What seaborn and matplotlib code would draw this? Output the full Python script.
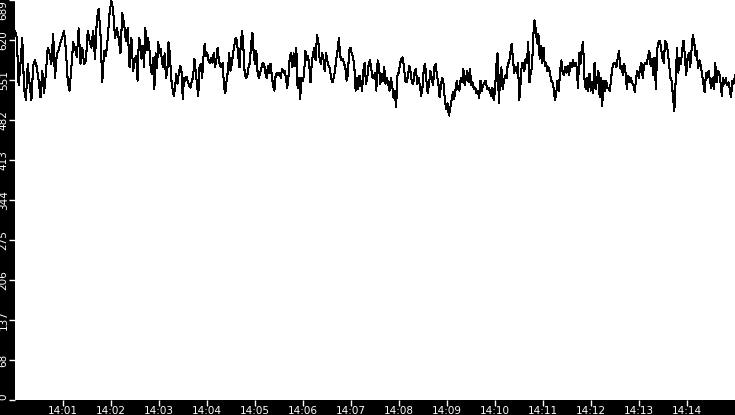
import numpy as np
import pandas as pd
import matplotlib
matplotlib.use("Agg")
import matplotlib.pyplot as plt
import matplotlib.dates as mdates
import seaborn as sns

# Values, in six 2.5-minute windows (14:00 -> 14:15)
seg1 = [636, 624, 542, 579, 623, 536, 516, 579, 545, 516, 576, 585, 573, 550, 521, 567, 528, 564,
        607, 597, 579, 631, 554, 597, 602, 616, 624, 636, 602, 550, 533, 573, 616, 607, 590, 640,
        579, 607, 579, 585, 636, 619, 607, 636, 588, 654, 674, 631, 547, 602, 593, 623, 666, 688,
        671, 623, 641, 624, 597, 666, 648, 619, 641, 573, 624, 567]
seg2 = [588, 593, 550, 624, 619, 588, 610, 573, 641, 602, 623, 610, 576, 562, 590, 536, 597, 571,
        616, 597, 605, 581, 573, 597, 555, 564, 616, 597, 554, 538, 524, 536, 562, 545, 564, 576,
        567, 519, 555, 550, 557, 547, 542, 538, 550, 555, 588, 567, 545, 524, 573, 579, 554, 590,
        614, 593, 598, 585, 581, 590, 581, 598, 573, 585, 607, 585, 576, 573, 581, 538, 528, 550,
        567, 597, 567, 579, 597, 610, 624, 619, 593, 573, 614, 636, 607, 562, 554, 559, 573, 581,
        614, 633, 597]
seg3 = [579, 602, 564, 554, 564, 573, 581, 579, 564, 555, 576, 564, 579, 559, 542, 533, 559, 564,
        559, 564, 555, 571, 564, 567, 555, 538, 559, 593, 597, 573, 597, 576, 607, 538, 554, 519,
        555, 550, 559, 602, 585, 593, 579, 547, 581, 597, 607, 585, 628, 619, 590, 579, 598, 588,
        567, 598, 585, 576, 571, 554, 547, 555, 567, 588, 602, 623, 593, 585, 588, 579, 573, 550,
        562, 602, 607, 597, 590, 573, 533, 555, 536, 559, 547, 533, 567, 581, 545, 555, 576, 585,
        573, 555, 554]
seg4 = [564, 533, 585, 576, 545, 562, 550, 573, 545, 554, 545, 533, 554, 542, 521, 533, 504, 559,
        564, 579, 588, 590, 573, 550, 547, 559, 576, 564, 547, 545, 564, 571, 545, 555, 542, 524,
        538, 571, 579, 550, 528, 545, 567, 554, 542, 573, 579, 559, 547, 521, 542, 555, 545, 516,
        502, 511, 490, 502, 516, 530, 519, 533, 550, 536, 533, 554, 547, 571, 542, 555, 567, 547,
        571, 542, 547, 536, 538, 528, 533, 521, 550, 533, 542, 547, 550, 536, 538, 533, 524, 538,
        516]
seg5 = [533, 576, 597, 512, 554, 573, 536, 550, 559, 554, 579, 581, 597, 614, 590, 564, 573, 564,
        581, 516, 545, 579, 581, 567, 588, 581, 616, 547, 564, 573, 628, 654, 636, 614, 631, 588,
        610, 581, 607, 576, 581, 567, 573, 564, 550, 547, 536, 516, 530, 550, 533, 567, 585, 564,
        559, 573, 564, 576, 559, 581, 573, 585, 576, 581, 573, 538, 597, 579, 607, 616, 555, 536,
        554, 533, 562, 533, 547, 528, 581, 536, 554, 567, 521, 554, 507, 550, 533, 550, 538, 536,
        533, 555, 573, 581]
seg6 = [581, 573, 588, 602, 571, 576, 559, 579, 564, 536, 559, 547, 554, 547, 542, 530, 554, 567,
        555, 571, 581, 555, 576, 581, 579, 590, 602, 576, 588, 559, 590, 536, 605, 616, 619, 605,
        588, 581, 619, 614, 602, 579, 555, 550, 521, 498, 550, 607, 564, 590, 579, 605, 619, 593,
        559, 588, 597, 573, 602, 628, 619, 593, 602, 571, 585, 576, 562, 545, 530, 564, 555, 567,
        550, 538, 555, 536, 581, 547, 567, 564, 547, 524, 555, 545, 554, 542, 547, 536, 521, 550,
        545, 559]
segments = [seg1, seg2, seg3, seg4, seg5, seg6]

y_tick_values = [0, 68.9, 137.8, 206.7, 275.6, 344.5, 413.4, 482.3, 551.2, 620.1, 689]
y_tick_labels = ["0", "68", "137", "206", "275", "344", "413", "482", "551", "620", "689"]
x_tick_minutes = list(range(1, 15))

start = pd.Timestamp("2024-01-01 14:00:00")
window = 150  # seconds per segment
times, vals = [], []
for k, seg in enumerate(segments):
    offs = np.linspace(window * k, window * (k + 1), len(seg), endpoint=(k == len(segments) - 1))
    times.extend(start + pd.to_timedelta(offs, unit="s"))
    vals.extend(seg)
df = pd.DataFrame({"time": times, "value": vals})

fig = plt.figure(figsize=(7.35, 4.15), dpi=100, facecolor="black")
ax = fig.add_axes([15 / 735, 15 / 415, 720 / 735, 400 / 415])
ax.set_facecolor("white")

sns.lineplot(data=df, x="time", y="value", ax=ax, color="black", linewidth=0.75,
             estimator=None, sort=False, antialiased=False)

ax.set_xlim(start, start + pd.Timedelta(minutes=15))
ax.set_ylim(0, 689)

ax.set_xticks([start + pd.Timedelta(minutes=m) for m in x_tick_minutes])
ax.xaxis.set_major_formatter(mdates.DateFormatter("%H:%M"))
ax.set_yticks(y_tick_values)
ax.set_yticklabels(y_tick_labels)

ax.tick_params(axis="x", colors="white", length=4, width=1, pad=0.3, labelsize=7.5)
ax.tick_params(axis="y", colors="white", length=4, width=1, pad=0.5, labelsize=7.5)
ylabs = ax.get_yticklabels()
for lab in ylabs:
    lab.set_rotation(90)
    lab.set_va("center")
    lab.set_ha("right")
ylabs[0].set_va("bottom")
ylabs[-1].set_va("top")

for s in ax.spines.values():
    s.set_visible(False)
ax.set_xlabel("")
ax.set_ylabel("")

fig.savefig("out.png", dpi=100, facecolor="black")
